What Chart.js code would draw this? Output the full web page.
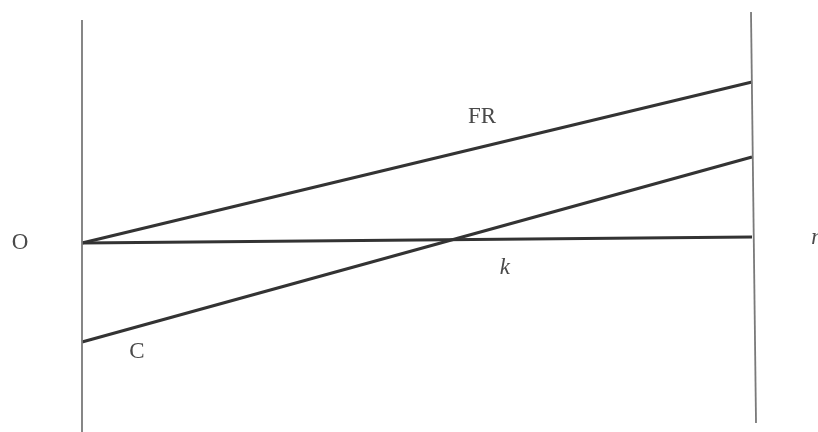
<!DOCTYPE html>
<html>
<head>
<meta charset="utf-8">
<script src="https://cdn.jsdelivr.net/npm/chart.js@4/dist/chart.umd.min.js"></script>
<style>
  html, body { margin: 0; padding: 0; background: #fff; }
  #wrap { width: 818px; height: 432px; }
</style>
</head>
<body>
<div id="wrap"><canvas id="diagram"></canvas></div>
<script>
// Line endpoints, x in [0,1] between the two verticals, y in diagram units (0 = horizontal axis)
const leftWall = [{ x: 0, y: 2.24 }, { x: 0, y: -1.9 }];
const rightWall = [{ x: 0.9985, y: 2.32 }, { x: 1.006, y: -1.79 }];
const frLine = [{ x: 0, y: 0.01 }, { x: 1, y: 1.62 }];
const cLine = [{ x: 0, y: -0.98 }, { x: 1, y: 0.87 }];
const baseLine = [{ x: 0, y: 0.01 }, { x: 1, y: 0.07 }];

// Text labels and where they sit
const labelTexts = ['O', 'n', 'FR', 'k', 'C'];
const labelX = [-0.0925, 1.097, 0.597, 0.631, 0.082];
const labelY = [0.01, 0.06, 1.27, -0.24, -1.08];
const labelItalic = [false, true, false, true, false];

const labelPlugin = {
    id: 'labels',
    afterDatasetsDraw(chart) {
        const ctx = chart.ctx;
        const xs = chart.scales.x;
        const ys = chart.scales.y;
        ctx.save();
        ctx.fillStyle = '#4a4a4a';
        ctx.textAlign = 'center';
        ctx.textBaseline = 'middle';
        labelTexts.forEach((t, i) => {
            ctx.font = (labelItalic[i] ? 'italic ' : '') + '23px "Liberation Serif", serif';
            ctx.fillText(t, xs.getPixelForValue(labelX[i]), ys.getPixelForValue(labelY[i]));
        });
        ctx.restore();
    }
};

function lineSet(points, color, width) {
    return {
        data: points,
        showLine: true,
        borderColor: color,
        borderWidth: width,
        pointRadius: 0,
        fill: false
    };
}

new Chart(document.getElementById('diagram'), {
    type: 'scatter',
    data: {
        datasets: [
            lineSet(leftWall, '#7a7a7a', 1.8),
            lineSet(rightWall, '#7a7a7a', 1.8),
            lineSet(frLine, '#333333', 3.2),
            lineSet(cLine, '#333333', 3.2),
            lineSet(baseLine, '#333333', 3.2)
        ]
    },
    options: {
        responsive: true,
        maintainAspectRatio: false,
        animation: false,
        layout: { padding: 0 },
        plugins: {
            legend: { display: false },
            tooltip: { enabled: false }
        },
        scales: {
            x: { type: 'linear', min: -82 / 670, max: 1 + 66 / 670, display: false },
            y: { type: 'linear', min: -1.88, max: 2.44, display: false }
        }
    },
    plugins: [labelPlugin]
});
</script>
</body>
</html>
